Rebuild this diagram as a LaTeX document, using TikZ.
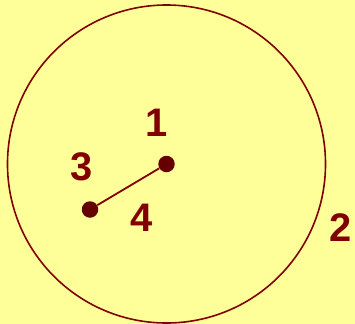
\documentclass[tikz,border=0pt]{standalone}
\usepackage{fontspec}
\setmainfont{Liberation Sans}
\definecolor{bg}{HTML}{FFFF99}
\definecolor{dred}{HTML}{800000}
\definecolor{dotred}{HTML}{660000}
\begin{document}
\begin{tikzpicture}[x=1bp,y=-1bp,
  lab/.style={text=dred,font=\bfseries\fontsize{40}{40}\selectfont,inner sep=0pt},
  dotc/.style={circle,fill=dotred,minimum size=16.5bp,inner sep=0pt}]
\fill[bg] (0,0) rectangle (355,324);
\useasboundingbox (0,0) rectangle (355,324);
\node[circle,draw=dred,line width=1.6bp,minimum size=318bp,inner sep=0pt] (big) at (166.5,164) {};
\node[dotc] (c) at (166.5,164) {};
\node[dotc] (p) at (90,209.5) {};
\draw[dred,line width=1.8bp] (c) -- (p);
\node[lab] (l1) at (157,123) {1};
\node[lab] (l3) at (82,167) {3};
\node[lab] (l4) at (142,217.5) {4};
\node[lab] (l2) at (341,228) {2};
\end{tikzpicture}
\end{document}
